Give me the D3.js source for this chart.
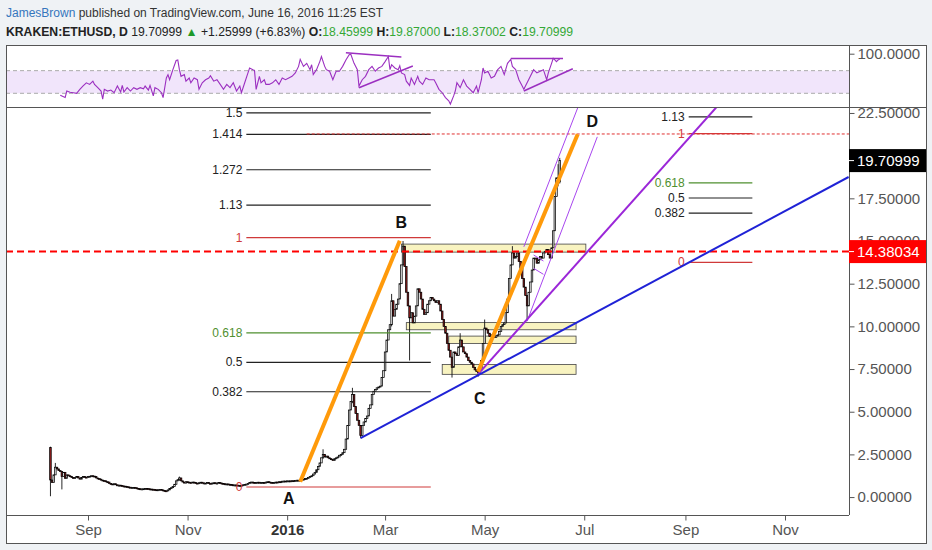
<!DOCTYPE html>
<meta charset="utf-8">
<head>
  <style>
    body { margin: 0; background: #eff2f5; }
    #chart text { font-family: "Liberation Sans", Arial, sans-serif; }
  </style>
</head>
<body>
<svg id="chart" width="932" height="550"></svg>
<script src="https://cdn.jsdelivr.net/npm/d3@7/dist/d3.min.js" charset="utf-8"></script>
<script>

// daily candles from 2015-08-09, open = previous close
var startDay = "2015-08-09";
var firstOpen = 2.9;
var closes = [
  // aug
  1.0, 0.85, 1.3, 1.75, 1.65, 1.55, 1.5, 1.2, 1.45, 1.1, 1.3, 1.25, 1.2, 1.15, 1.1, 1.15, 1.2, 1.12, 1.05, 1.15, 1.2, 1.17, 1.15,
  // sep
  1.2, 1.22, 1.25, 1.23, 1.2, 1.12, 1.08, 1.05, 1.0, 0.97, 0.95, 0.9, 0.88, 0.8, 0.77, 0.76, 0.78, 0.72, 0.7, 0.7, 0.68, 0.65, 0.64, 0.62, 0.6, 0.58, 0.55, 0.57, 0.57, 0.54,
  // oct
  0.51, 0.49, 0.47, 0.48, 0.49, 0.51, 0.5, 0.48, 0.47, 0.46, 0.45, 0.43, 0.41, 0.43, 0.45, 0.42, 0.38, 0.37, 0.36, 0.42, 0.5, 0.55, 0.62, 0.75, 0.95, 1.02, 1.12, 0.95, 0.88, 0.82, 0.9,
  // nov
  0.88, 0.86, 0.84, 0.88, 0.85, 0.82, 0.8, 0.84, 0.87, 0.83, 0.8, 0.82, 0.85, 0.81, 0.79, 0.82, 0.84, 0.8, 0.82, 0.85, 0.82, 0.8, 0.78, 0.76, 0.77, 0.75, 0.73, 0.72, 0.7, 0.71,
  // dec
  0.7, 0.68, 0.67, 0.69, 0.72, 0.74, 0.76, 0.8, 0.85, 0.88, 0.85, 0.83, 0.85, 0.87, 0.84, 0.85, 0.86, 0.84, 0.88, 0.9, 0.87, 0.85, 0.84, 0.86, 0.88, 0.87, 0.9, 0.88, 0.93, 0.94, 0.93,
  // jan
  0.95, 0.95, 0.94, 0.96, 0.95, 0.97, 0.99, 0.98, 1.0, 1.05, 1.02, 1.08, 1.1, 1.15, 1.2, 1.25, 1.35, 1.45, 1.6, 1.8, 2.0, 2.3, 2.5, 2.35, 2.4, 2.3, 2.25, 2.2, 2.15, 2.25, 2.3,
  // feb
  2.35, 2.45, 2.5, 2.6, 2.8, 3.4, 4.2, 5.1, 5.6, 6.0, 5.3, 4.9, 4.5, 4.2, 3.6, 4.2, 4.4, 4.6, 4.75, 5.2, 5.4, 6.0, 6.2, 6.3, 6.4, 6.45, 6.5, 7.0, 7.4,
  // mar
  8.5, 9.2, 9.8, 10.1, 11.5, 10.6, 11.0, 11.3, 11.6, 12.5, 13.6, 14.7, 13.5, 12.0, 11.2, 10.5, 10.8, 10.2, 10.6, 11.2, 12.2, 12.0, 11.6, 11.0, 10.7, 10.8, 11.3, 11.5, 11.7, 11.6, 11.5,
  // apr
  11.4, 11.5, 11.3, 10.9, 10.4, 10.0, 9.6, 9.0, 8.6, 8.2, 7.6, 8.5, 8.4, 8.3, 8.8, 9.2, 8.8, 8.5, 8.4, 8.2, 8.0, 7.9, 7.8, 7.6, 7.45, 7.35, 7.3, 7.5, 8.0, 9.0,
  // may
  9.9, 9.8, 9.6, 9.4, 9.5, 9.4, 9.35, 9.45, 9.5, 9.7, 10.0, 10.1, 10.2, 10.8, 11.6, 12.8, 13.6, 14.3, 14.0, 14.1, 14.3, 13.8, 13.4, 12.8, 12.3, 11.8, 11.2, 12.0, 12.6, 13.3, 14.0,
  // jun
  14.0, 13.7, 13.9, 14.1, 14.0, 14.3, 14.4, 14.5, 14.2, 14.0, 14.6, 15.6, 17.6, 18.7, 18.46, 19.71
];
// [day index, high, low] for the visible long wicks
var wicks = [
  [0, 2.95, 0.05], [3, 2.0, 1.3], [7, 1.45, 0.45], [79, 1.2, 0.95], [167, 2.8, 2.25],
  [185, 6.4, 5.5], [190, 4.2, 3.45], [209, 11.9, 10.0], [216, 15.0, 13.6], [220, 11.2, 8.0],
  [246, 8.2, 7.0], [251, 9.6, 8.8], [262, 7.5, 7.05], [266, 10.4, 9.0], [283, 14.7, 13.6],
  [292, 11.8, 10.4], [311, 19.5, 18.2], [312, 19.87, 18.37]
];
// [day index, rsi]
var rsiPoints = [
  [6,26.5],[9,22.5],[10,34],[12,32],[14,31],[16,30],[18,37],[19,40],[20,43],[22,48.5],[24,45.7],[26,51.5],
  [27,45.7],[29,40],[31,34],[32,19.6],[33,37],[35,34],[37,35.8],[39,31],[41,42.8],[43,32.3],[44,44],[45,32.3],
  [47,40],[49,34],[51,40],[53,37],[55,40],[57,38],[58,42.8],[60,35.8],[61,44],[63,25.4],[64,40],[66,37],
  [68,31],[69,22.5],[71,57],[72,63],[73,54],[75,71.8],[77,88],[78,89],[79,71.8],[80,60],[82,63],[83,51.5],
  [85,57],[86,48.6],[88,57],[90,54],[91,37],[93,48.6],[95,54],[97,57],[98,61],[100,51.5],[102,54],[104,45.7],
  [106,37],[108,45.7],[110,40],[112,48.6],[114,34],[116,42.8],[117,31],[119,48.6],[121,66],[122,74.7],[124,71.8],
  [125,70.6],[126,37],[128,60],[129,48.6],[131,54],[132,45.7],[134,45.7],[136,48.6],[138,54],[140,45.7],[142,57],
  [144,54],[146,57],[148,60],[150,66],[152,77.6],[153,90],[155,77.6],[157,83],[159,71.8],[160,80.5],[161,63],
  [163,71.8],[165,86],[166,95],[168,77.6],[169,71.8],[171,69],[173,54],[175,69],[177,69],[179,77.6],[181,89],
  [183,98],[184,99],[186,83],[188,71.8],[189,42.8],[191,54],[193,60],[195,71.8],[197,77.6],[199,69],[201,74.7],
  [203,77.6],[205,86],[207,95],[208,71.8],[209,80.5],[211,74.7],[213,71.8],[214,78.7],[215,66],[217,63],[218,51.5],
  [220,44],[221,57],[223,45.7],[225,60],[226,51.5],[228,45.7],[230,57],[232,54],[235,54],[236,48.6],[238,37],
  [240,31],[242,22.5],[244,16.7],[245,11],[247,25.4],[248,34],[249,48.6],[251,40],[253,54],[255,42.8],[257,37],
  [259,31],[261,42.8],[262,31],[264,54],[265,74.7],[266,66],[268,69],[270,57],[272,60],[274,71.8],[276,77.6],
  [278,63],[280,83],[282,90],[283,77.6],[285,71.8],[287,54],[289,42.8],[290,37],[292,48.6],[294,60],[296,71.8],
  [298,66],[300,69],[302,71.8],[304,54],[305,66],[307,83],[308,92],[310,86],[311,89],[312,90]
];

var priceTicks = [0, 2.5, 5, 7.5, 10, 12.5, 15, 17.5, 20, 22.5];
var rsiTicks = [100];
var rsiBand = [30, 70];
var monthTicks = ["2015-09-01", "2015-11-01", "2016-01-01", "2016-03-01", "2016-05-01", "2016-07-01", "2016-09-01", "2016-11-01"];

var lastPrice = 19.70999;
var markedLevel = 14.38034;
var targetLevel = ["2016-01-13", 21.27];

var fibLeftLevels = [0, 0.382, 0.5, 0.618, 1, 1.13, 1.272, 1.414, 1.5];
var fibLeftRange = [0.59, 15.2];
var fibLeftSpan = ["2015-12-07", "2016-03-29"];
var fibRightLevels = [0, 0.382, 0.5, 0.618, 1, 1.13];
var fibRightRange = [13.75, 21.29];
var fibRightSpan = ["2016-09-03", "2016-10-12"];

// [from, to, top, bottom]
var zones = [
  ["2016-03-11", "2016-07-02", 14.82, 14.35],
  ["2016-03-14", "2016-06-26", 10.22, 9.8],
  ["2016-04-09", "2016-06-26", 9.43, 9.0],
  ["2016-04-05", "2016-06-26", 7.77, 7.19]
];
// [date1, value1, date2, value2]
var orangeLines = [
  ["2016-01-09", 0.9, "2016-03-10", 15.01],
  ["2016-04-27", 7.34, "2016-06-27", 21.25]
];
var blueLines = [["2016-02-15", 3.45, "2016-12-10", 18.75]];
var purpleThick = [["2016-04-27", 7.2, "2016-09-22", 23.05]];
var purpleThin = [
  ["2016-05-25", 14.66, "2016-06-27", 22.8],
  ["2016-05-27", 10.3, "2016-07-09", 21.1],
  ["2016-05-31", 14.18, "2016-06-06", 13.83],
  ["2016-05-31", 13.4, "2016-06-06", 13.05]
];
var rsiLines = [
  ["2016-02-06", 101.6, "2016-03-11", 94],
  ["2016-02-14", 39.9, "2016-03-18", 78.2],
  ["2016-05-17", 91.4, "2016-06-18", 91.4],
  ["2016-05-25", 34, "2016-06-24", 73.4]
];
var pointLabels = [["A", "2016-01-02", -0.4], ["B", "2016-03-11", 15.76], ["C", "2016-04-28", 5.45], ["D", "2016-07-06", 21.68]];


var parseDay = d3.utcParse("%Y-%m-%d");
var t0 = parseDay(startDay);
function dayDate(i) { return new Date(t0.getTime() + i * 864e5); }

var frameL = 6, frameR = 926, frameT = 45, frameB = 543;
var plotR = 849, rsiT = 46, rsiB = 107, mainB = 515;

var x = d3.scaleUtc().domain([parseDay("2015-09-01"), parseDay("2016-11-01")]).range([88, 785]);
var y = d3.scaleLinear().domain([-1.05, 22.85]).range([mainB, rsiB]);
var yr = d3.scaleLinear().domain([5.8, 113.6]).range([rsiB, rsiT]);

var svg = d3.select("#chart");

svg.append("rect").attr("x", frameL + 0.5).attr("y", frameT + 0.5)
  .attr("width", frameR - frameL).attr("height", frameB - frameT)
  .attr("fill", "#fff").attr("stroke", "#555");

var defs = svg.append("defs");
defs.append("clipPath").attr("id", "clipRsi").append("rect")
  .attr("x", frameL + 1).attr("y", rsiT).attr("width", plotR - frameL - 1).attr("height", rsiB - rsiT);
defs.append("clipPath").attr("id", "clipMain").append("rect")
  .attr("x", frameL + 1).attr("y", rsiB).attr("width", plotR - frameL - 1).attr("height", mainB - rsiB);

// ---- rsi pane
var rsi = svg.append("g").attr("clip-path", "url(#clipRsi)");
rsi.append("rect").attr("x", frameL).attr("width", plotR - frameL)
  .attr("y", yr(rsiBand[1])).attr("height", yr(rsiBand[0]) - yr(rsiBand[1]))
  .attr("fill", "#f1e5fb");
rsi.selectAll(".band").data(rsiBand).enter().append("line")
  .attr("x1", frameL).attr("x2", plotR)
  .attr("y1", function(d) { return yr(d); }).attr("y2", function(d) { return yr(d); })
  .attr("stroke", "#aaa").attr("stroke-dasharray", "4,3");
rsi.append("path").datum(rsiPoints)
  .attr("d", d3.line().x(function(d) { return x(dayDate(d[0])); }).y(function(d) { return yr(d[1]); }))
  .attr("fill", "none").attr("stroke", "#9b2fc0").attr("stroke-width", 1.1);
rsi.selectAll(".tl").data(rsiLines).enter().append("line")
  .attr("x1", function(d) { return x(parseDay(d[0])); }).attr("y1", function(d) { return yr(d[1]); })
  .attr("x2", function(d) { return x(parseDay(d[2])); }).attr("y2", function(d) { return yr(d[3]); })
  .attr("stroke", "#9b2fc0").attr("stroke-width", 1.5);

// ---- main pane
var main = svg.append("g").attr("clip-path", "url(#clipMain)");

main.selectAll(".zone").data(zones).enter().append("rect")
  .attr("x", function(d) { return x(parseDay(d[0])); })
  .attr("width", function(d) { return x(parseDay(d[1])) - x(parseDay(d[0])); })
  .attr("y", function(d) { return y(d[2]); })
  .attr("height", function(d) { return y(d[3]) - y(d[2]); })
  .attr("fill", "#f8f3c0").attr("stroke", "#444").attr("stroke-width", 0.8);

var candles = closes.map(function(c, i) {
  var o = i === 0 ? firstOpen : closes[i - 1];
  return { date: dayDate(i), open: o, close: c, high: Math.max(o, c), low: Math.min(o, c) };
});
wicks.forEach(function(w) {
  var d = candles[w[0]];
  d.high = Math.max(d.high, w[1]);
  d.low = Math.min(d.low, w[2]);
});

var gC = main.append("g");
gC.selectAll("line").data(candles).enter().append("line")
  .attr("x1", function(d) { return x(d.date); }).attr("x2", function(d) { return x(d.date); })
  .attr("y1", function(d) { return y(d.high); }).attr("y2", function(d) { return y(d.low); })
  .attr("stroke", "#111").attr("stroke-width", 0.9);
gC.selectAll("rect").data(candles).enter().append("rect")
  .attr("x", function(d) { return x(d.date) - 0.8; }).attr("width", 1.6)
  .attr("y", function(d) { return y(Math.max(d.open, d.close)); })
  .attr("height", function(d) { return Math.max(1, Math.abs(y(d.open) - y(d.close))); })
  .attr("fill", function(d) { return d.close >= d.open ? "#e6e6e6" : "#8e1c1c"; })
  .attr("stroke", "#000").attr("stroke-width", 0.7);

function fibColor(l) {
  if (l === 0 || l === 1) return "#d03a3a";
  if (l === 0.618) return "#4f8f2f";
  return "#222";
}
function drawFib(levels, range, span) {
  var g = main.append("g");
  var x1 = x(parseDay(span[0])), x2 = x(parseDay(span[1]));
  var val = function(l) { return range[0] + l * (range[1] - range[0]); };
  g.selectAll("line").data(levels).enter().append("line")
    .attr("x1", x1).attr("x2", x2)
    .attr("y1", function(d) { return y(val(d)); }).attr("y2", function(d) { return y(val(d)); })
    .attr("stroke", fibColor).attr("stroke-width", 1.2);
  g.selectAll("text").data(levels).enter().append("text")
    .attr("x", x1 - 4).attr("y", function(d) { return y(val(d)) + 4; })
    .attr("text-anchor", "end").attr("font-size", 12)
    .attr("fill", fibColor)
    .text(function(d) { return d; });
}
drawFib(fibLeftLevels, fibLeftRange, fibLeftSpan);
drawFib(fibRightLevels, fibRightRange, fibRightSpan);

main.append("line")
  .attr("x1", x(parseDay(targetLevel[0]))).attr("x2", plotR)
  .attr("y1", y(targetLevel[1])).attr("y2", y(targetLevel[1]))
  .attr("stroke", "#e03030").attr("stroke-width", 1).attr("stroke-dasharray", "3,2");
main.append("line")
  .attr("x1", frameL).attr("x2", plotR)
  .attr("y1", y(markedLevel)).attr("y2", y(markedLevel))
  .attr("stroke", "#f00").attr("stroke-width", 2).attr("stroke-dasharray", "7,4");

function drawLines(data, color, width) {
  main.append("g").selectAll("line").data(data).enter().append("line")
    .attr("x1", function(d) { return x(parseDay(d[0])); }).attr("y1", function(d) { return y(d[1]); })
    .attr("x2", function(d) { return x(parseDay(d[2])); }).attr("y2", function(d) { return y(d[3]); })
    .attr("stroke", color).attr("stroke-width", width);
}
drawLines(purpleThin, "#a846ef", 1);
drawLines(purpleThick, "#9b27d8", 2);
drawLines(blueLines, "#1f22d6", 2);
drawLines(orangeLines, "#ff9a0a", 4);

main.selectAll(".pt").data(pointLabels).enter().append("text")
  .attr("x", function(d) { return x(parseDay(d[1])); })
  .attr("y", function(d) { return y(d[2]); })
  .attr("text-anchor", "middle").attr("font-size", 16).attr("font-weight", "bold")
  .attr("fill", "#111")
  .text(function(d) { return d[0]; });

// ---- separators
svg.append("line").attr("x1", frameL).attr("x2", frameR).attr("y1", rsiB + 0.5).attr("y2", rsiB + 0.5).attr("stroke", "#555");
svg.append("line").attr("x1", plotR + 0.5).attr("x2", plotR + 0.5).attr("y1", frameT).attr("y2", mainB).attr("stroke", "#555");
svg.append("line").attr("x1", frameL).attr("x2", plotR).attr("y1", mainB + 0.5).attr("y2", mainB + 0.5).attr("stroke", "#555");

// ---- axes
function styleAxis(g) {
  g.select(".domain").remove();
  g.attr("font-size", 15).attr("font-family", "Liberation Sans, Arial, sans-serif");
  g.selectAll(".tick line").attr("stroke", "#555");
  g.selectAll(".tick text").attr("fill", "#555");
}
// the label under the last-price box is hidden, as on the reference
var fmt5 = d3.format(".5f");
svg.append("g").attr("transform", "translate(" + (plotR + 0.5) + ",0)")
  .call(d3.axisRight(y).tickValues(priceTicks).tickSize(5).tickPadding(3)
    .tickFormat(function(d) { return Math.abs(y(d) - y(lastPrice)) < 12 ? "" : fmt5(d); }))
  .call(styleAxis);
svg.append("g").attr("transform", "translate(" + (plotR + 0.5) + ",0)")
  .call(d3.axisRight(yr).tickValues(rsiTicks).tickFormat(d3.format(".4f")).tickSize(5).tickPadding(3))
  .call(styleAxis);

var monthFormat = function(d) { return d.getUTCMonth() === 0 ? d3.utcFormat("%Y")(d) : d3.utcFormat("%b")(d); };
var xAxis = svg.append("g").attr("transform", "translate(0," + (mainB + 0.5) + ")")
  .call(d3.axisBottom(x).tickValues(monthTicks.map(parseDay)).tickFormat(monthFormat).tickSize(5).tickPadding(4))
  .call(styleAxis);
xAxis.selectAll(".tick text")
  .attr("font-weight", function(d) { return d.getUTCMonth() === 0 ? "bold" : null; })
  .attr("fill", function(d) { return d.getUTCMonth() === 0 ? "#333" : "#555"; });

function priceBox(value, fill) {
  var g = svg.append("g").attr("transform", "translate(" + plotR + "," + y(value) + ")");
  g.append("rect").attr("x", 0).attr("y", -11.5).attr("width", frameR - plotR).attr("height", 23).attr("fill", fill);
  g.append("line").attr("x1", 0).attr("x2", 5).attr("stroke", "#fff");
  g.append("text").attr("x", 8).attr("y", 5.5).attr("font-size", 15).attr("fill", "#fff")
    .text(fmt5(value));
}
priceBox(lastPrice, "#000");
priceBox(markedLevel, "#f00");

// ---- header
var h1 = svg.append("text").attr("x", 6).attr("y", 17).attr("font-size", 12);
h1.append("tspan").attr("fill", "#3576bd").text("JamesBrown");
h1.append("tspan").attr("fill", "#333").text(" published on TradingView.com, June 16, 2016 11:25 EST");

var green = "#34a835";
var parts = [
  ["KRAKEN:ETHUSD, D", "#222", "bold"], [" 19.70999 ", "#222", null], ["\u25B2", "#1e9a2a", null],
  [" +1.25999 (+6.83%) ", "#222", null], ["O:", "#222", "bold"], ["18.45999", green, null],
  [" H:", "#222", "bold"], ["19.87000", green, null], [" L:", "#222", "bold"], ["18.37002", green, null],
  [" C:", "#222", "bold"], ["19.70999", green, null]
];
var h2 = svg.append("text").attr("x", 6).attr("y", 36).attr("font-size", 12.2);
parts.forEach(function(p) {
  h2.append("tspan").attr("fill", p[1]).attr("font-weight", p[2]).text(p[0]);
});

</script>
</body>
